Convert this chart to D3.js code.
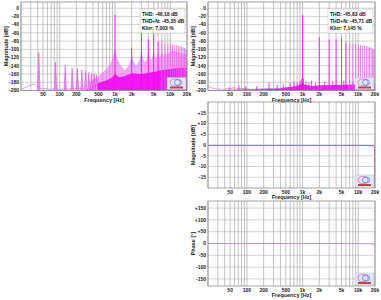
<!DOCTYPE html>
<html>
<head>
<meta charset="utf-8">
<script src="https://cdn.jsdelivr.net/npm/d3@7"></script>
<style>
body { margin: 0; background: #fff; }
svg { display: block; font-family: "Liberation Sans", Arial, sans-serif; }
.tick-label { font-size: 5px; font-weight: bold; fill: #222; }
.axis-title { font-size: 5.5px; font-weight: bold; fill: #222; }
.legend-text { font-size: 5px; font-weight: bold; fill: #111; }
</style>
</head>
<body>
<svg id="chart" width="381" height="300"></svg>
<script>
// axis ticks
const freqTicks = [50, 100, 200, 500, 1000, 2000, 5000, 10000, 20000];
const freqTickLabels = ["50", "100", "200", "500", "1k", "2k", "5k", "10k", "20k"];
const dbTicks = [0, -20, -40, -60, -80, -100, -120, -140, -160, -180, -200];
const respTicks = [15, 10, 5, 0, -5, -10, -15];
const phaseTicks = [150, 100, 50, 0, -50, -100, -150];

// left spectrum [Hz, dB]
const leftLowNoise = [[20,-197],[23,-194],[27,-190],[31,-186],[34,-184],[37,-188],[40,-193],[47,-196],[55,-195],[65,-197],[80,-196],[100,-197],[150,-196],[200,-195],[300,-194]];
const leftSubPeaks = [[42,-108],[84,-131],[126,-138],[168,-145],[210,-147],[252,-150],[294,-152],[336,-156],[378,-158],[420,-160],[462,-162]];
const leftFloor = [[20,-200],[300,-198],[400,-190],[500,-182],[700,-175],[900,-168],[1000,-160],[1200,-168],[1500,-165],[2000,-158],[3000,-160],[5000,-155],[7000,-150],[10000,-148],[15000,-145],[20000,-145]];
const leftSkirt = [[350,-180],[500,-165],[650,-152],[800,-138],[900,-122],[960,-108],[1000,-97],[1040,-108],[1100,-122],[1250,-138],[1500,-150],[1750,-140],[1900,-125],[2000,-112],[2100,-125],[2400,-140],[2700,-130],[2900,-112],[3000,-98],[3100,-112],[3400,-132],[3700,-125],[3900,-112],[4000,-104],[4100,-112],[4500,-125],[4800,-115],[5000,-104],[5200,-115],[5600,-122],[6000,-108],[6400,-120],[7000,-106],[7500,-118],[8000,-106],[8500,-115],[9000,-104],[9500,-112],[10000,-102],[11000,-104],[12000,-104],[13000,-106],[15000,-108],[17000,-110],[20000,-114]];
const leftHarmonics = [[1000,-16],[2000,-96],[3000,-58],[4000,-75],[5000,-62],[6000,-80],[7000,-78],[8000,-84],[9000,-86],[10000,-88],[11000,-88],[12000,-89],[13000,-90],[14000,-91],[15000,-92],[16000,-94],[17000,-95],[18000,-97],[19000,-99],[20000,-101]];
const leftStats = ["THD: -46,18 dB", "THD+N: -45,35 dB", "Klirr: 7,003 %"];

// right spectrum [Hz, dB]
const rightLowNoise = [[20,-190],[23,-193],[27,-196],[35,-197],[50,-196],[60,-193],[70,-196],[90,-195],[120,-197],[200,-196],[400,-195]];
const rightFloor = [[20,-200],[50,-198],[100,-197],[200,-196],[400,-194],[700,-190],[900,-186],[1000,-182],[1100,-186],[1500,-189],[2000,-187],[5000,-186],[10000,-185],[20000,-184]];
const rightNoiseSpikes = [[48,-192],[72,-188],[95,-190],[150,-189],[250,-181],[350,-186],[450,-184],[600,-182],[700,-179],[800,-180],[900,-176],[960,-172],[1040,-170],[1150,-178],[1300,-180],[1450,-176],[1700,-181],[2500,-178],[3500,-177],[5500,-176],[8000,-178],[12000,-176]];
const rightHarmonics = [[1000,-16],[2000,-71],[3000,-76],[4000,-76],[5000,-74],[6000,-84],[7000,-85],[8000,-86],[9000,-87],[10000,-88],[11000,-89],[12000,-90],[13000,-91],[14000,-92],[15000,-93],[16000,-95],[17000,-96],[18000,-98],[19000,-100],[20000,-102]];
const rightStats = ["THD: -45,83 dB", "THD+N: -45,71 dB", "Klirr: 7,145 %"];

// frequency response / phase
const respFreq = [20, 100, 1000, 10000, 19000, 19700, 20000];
const respDb = [-0.2, -0.2, -0.2, -0.2, -0.3, -1.5, -30];
const phaseFreq = [20, 1000, 10000, 19000, 20000];
const phaseDeg = [0, 0, 0, -2, -12];

const svg = d3.select('#chart');
let clipId = 0;

function panel(left, top, width, height, yDomain, yTicks, yFmt, yTitle)
{
    const x = d3.scaleLog().domain([20, 20000]).range([left, left + width]);
    const y = d3.scaleLinear().domain(yDomain).range([top + height, top]);
    const g = svg.append('g');

    // grid
    g.selectAll(null)
        .data(x.ticks())
        .enter()
        .append('line')
        .attr('x1', d => x(d)).attr('x2', d => x(d))
        .attr('y1', top).attr('y2', top + height)
        .attr('stroke', '#9a9a9a')
        .attr('stroke-width', 0.6);
    g.selectAll(null)
        .data(yTicks)
        .enter()
        .append('line')
        .attr('x1', left).attr('x2', left + width)
        .attr('y1', d => y(d)).attr('y2', d => y(d))
        .attr('stroke', '#b4b4b4')
        .attr('stroke-width', 0.6);

    // labels
    g.selectAll(null)
        .data(yTicks)
        .enter()
        .append('text')
        .attr('class', 'tick-label')
        .attr('x', left - 2)
        .attr('y', d => y(d) + 1.8)
        .attr('text-anchor', 'end')
        .text(yFmt);
    g.selectAll(null)
        .data(freqTicks)
        .enter()
        .append('text')
        .attr('class', 'tick-label')
        .attr('x', d => x(d))
        .attr('y', top + height + 5.5)
        .attr('text-anchor', 'middle')
        .text((d, i) => freqTickLabels[i]);
    g.append('text')
        .attr('class', 'axis-title')
        .attr('x', left + width / 2)
        .attr('y', top + height + 11)
        .attr('text-anchor', 'middle')
        .text('Frequency [Hz]');
    g.append('text')
        .attr('class', 'axis-title')
        .attr('transform', `translate(${left - 13}, ${top + height / 2}) rotate(-90)`)
        .attr('text-anchor', 'middle')
        .text(yTitle);

    const id = 'clip' + (clipId++);
    svg.append('clipPath').attr('id', id)
        .append('rect')
        .attr('x', left).attr('y', top)
        .attr('width', width).attr('height', height);
    const plot = svg.append('g').attr('clip-path', `url(#${id})`);

    return { x, y, g, plot, left, top, width, height };
}

function frameAndLogo(p)
{
    // logo box in the corner
    const lw = 19, lh = 12;
    const lx = p.left + p.width - lw - 1;
    const ly = p.top + p.height - lh - 1;
    const logo = svg.append('g');
    logo.append('rect')
        .attr('x', lx).attr('y', ly).attr('width', lw).attr('height', lh)
        .attr('fill', '#dfe7f6').attr('stroke', '#a9b3c9').attr('stroke-width', 0.4);
    logo.append('ellipse')
        .attr('cx', lx + 8).attr('cy', ly + 5).attr('rx', 5).attr('ry', 3.5)
        .attr('fill', 'none').attr('stroke', '#e58cc4').attr('stroke-width', 1.2);
    logo.append('ellipse')
        .attr('cx', lx + 11).attr('cy', ly + 5).attr('rx', 3.5).attr('ry', 3)
        .attr('fill', 'none').attr('stroke', '#6f8fdc').attr('stroke-width', 1);
    logo.append('rect')
        .attr('x', lx + 3).attr('y', ly + 9).attr('width', 13).attr('height', 2)
        .attr('fill', '#c84040');

    svg.append('rect')
        .attr('x', p.left).attr('y', p.top)
        .attr('width', p.width).attr('height', p.height)
        .attr('fill', 'none')
        .attr('stroke', '#8c8c8c')
        .attr('stroke-width', 0.8);
}

function statsBox(p, lines)
{
    const bx = p.left + p.width - 47, by = p.top + 7;
    svg.append('rect')
        .attr('x', bx).attr('y', by).attr('width', 45).attr('height', 24)
        .attr('fill', '#fff').attr('stroke', '#bbb').attr('stroke-width', 0.5);
    svg.selectAll(null)
        .data(lines)
        .enter()
        .append('text')
        .attr('class', 'legend-text')
        .attr('x', bx + 2)
        .attr('y', (d, i) => by + 6.5 + i * 7)
        .text(d => d);
}

function spectrum(p, floor, skirt, lowNoise, subPeaks, spikes, harmonics)
{
    const area = d3.area()
        .x(d => p.x(d[0]))
        .y0(p.y(-200))
        .y1(d => p.y(d[1]));
    const line = d3.line()
        .x(d => p.x(d[0]))
        .y(d => p.y(d[1]));

    if (skirt) {
        p.plot.append('path')
            .attr('d', area(skirt))
            .attr('fill', '#ee5cee')
            .attr('fill-opacity', 0.55);
    }
    p.plot.append('path')
        .attr('d', area(floor))
        .attr('fill', '#f000f0')
        .attr('fill-opacity', 0.85);
    p.plot.append('path')
        .attr('d', line(lowNoise))
        .attr('fill', 'none')
        .attr('stroke', '#c990e0')
        .attr('stroke-width', 0.8);

    // broad low spikes
    p.plot.selectAll(null)
        .data(subPeaks)
        .enter()
        .append('path')
        .attr('d', d => line([[d[0] / 1.05, -200], [d[0], d[1]], [d[0] * 1.05, -200]]))
        .attr('fill', '#f08cf0')
        .attr('stroke', '#e040e0')
        .attr('stroke-width', 0.5);

    p.plot.selectAll(null)
        .data(spikes)
        .enter()
        .append('line')
        .attr('x1', d => p.x(d[0])).attr('x2', d => p.x(d[0]))
        .attr('y1', p.y(-200)).attr('y2', d => p.y(d[1]))
        .attr('stroke', '#f000f0')
        .attr('stroke-width', 0.7);

    p.plot.selectAll(null)
        .data(harmonics)
        .enter()
        .append('line')
        .attr('x1', d => p.x(d[0])).attr('x2', d => p.x(d[0]))
        .attr('y1', p.y(-200)).attr('y2', d => p.y(d[1]))
        .attr('stroke', (d, i) => i < 6 ? '#ff00ff' : '#e866e8')
        .attr('stroke-width', 0.8);
}

const dbFmt = d => d;
const signFmt = d => d > 0 ? '+' + d : d;

// top left
const pL = panel(21, 2, 166, 88.5, [-200, 15], dbTicks, dbFmt, 'Magnitude [dB]');
spectrum(pL, leftFloor, leftSkirt, leftLowNoise, leftSubPeaks, [], leftHarmonics);
frameAndLogo(pL);
statsBox(pL, leftStats);

// top right
const pR = panel(208, 2, 167, 88.5, [-200, 15], dbTicks, dbFmt, 'Magnitude [dB]');
spectrum(pR, rightFloor, null, rightLowNoise, [], rightNoiseSpikes, rightHarmonics);
frameAndLogo(pR);
statsBox(pR, rightStats);

// frequency response
const pM = panel(208, 102, 167, 86, [-20, 20], respTicks, signFmt, 'Magnitude [dB]');
pM.plot.append('path')
    .attr('d', d3.line().x((d, i) => pM.x(respFreq[i])).y(d => pM.y(d))(respDb))
    .attr('fill', 'none')
    .attr('stroke', '#dd4fb8')
    .attr('stroke-width', 1);
frameAndLogo(pM);

// phase
const pP = panel(208, 201, 167, 85, [-180, 180], phaseTicks, signFmt, 'Phase [°]');
pP.plot.append('path')
    .attr('d', d3.line().x((d, i) => pP.x(phaseFreq[i])).y(d => pP.y(d))(phaseDeg))
    .attr('fill', 'none')
    .attr('stroke', '#c583d6')
    .attr('stroke-width', 0.8);
frameAndLogo(pP);
</script>
</body>
</html>
